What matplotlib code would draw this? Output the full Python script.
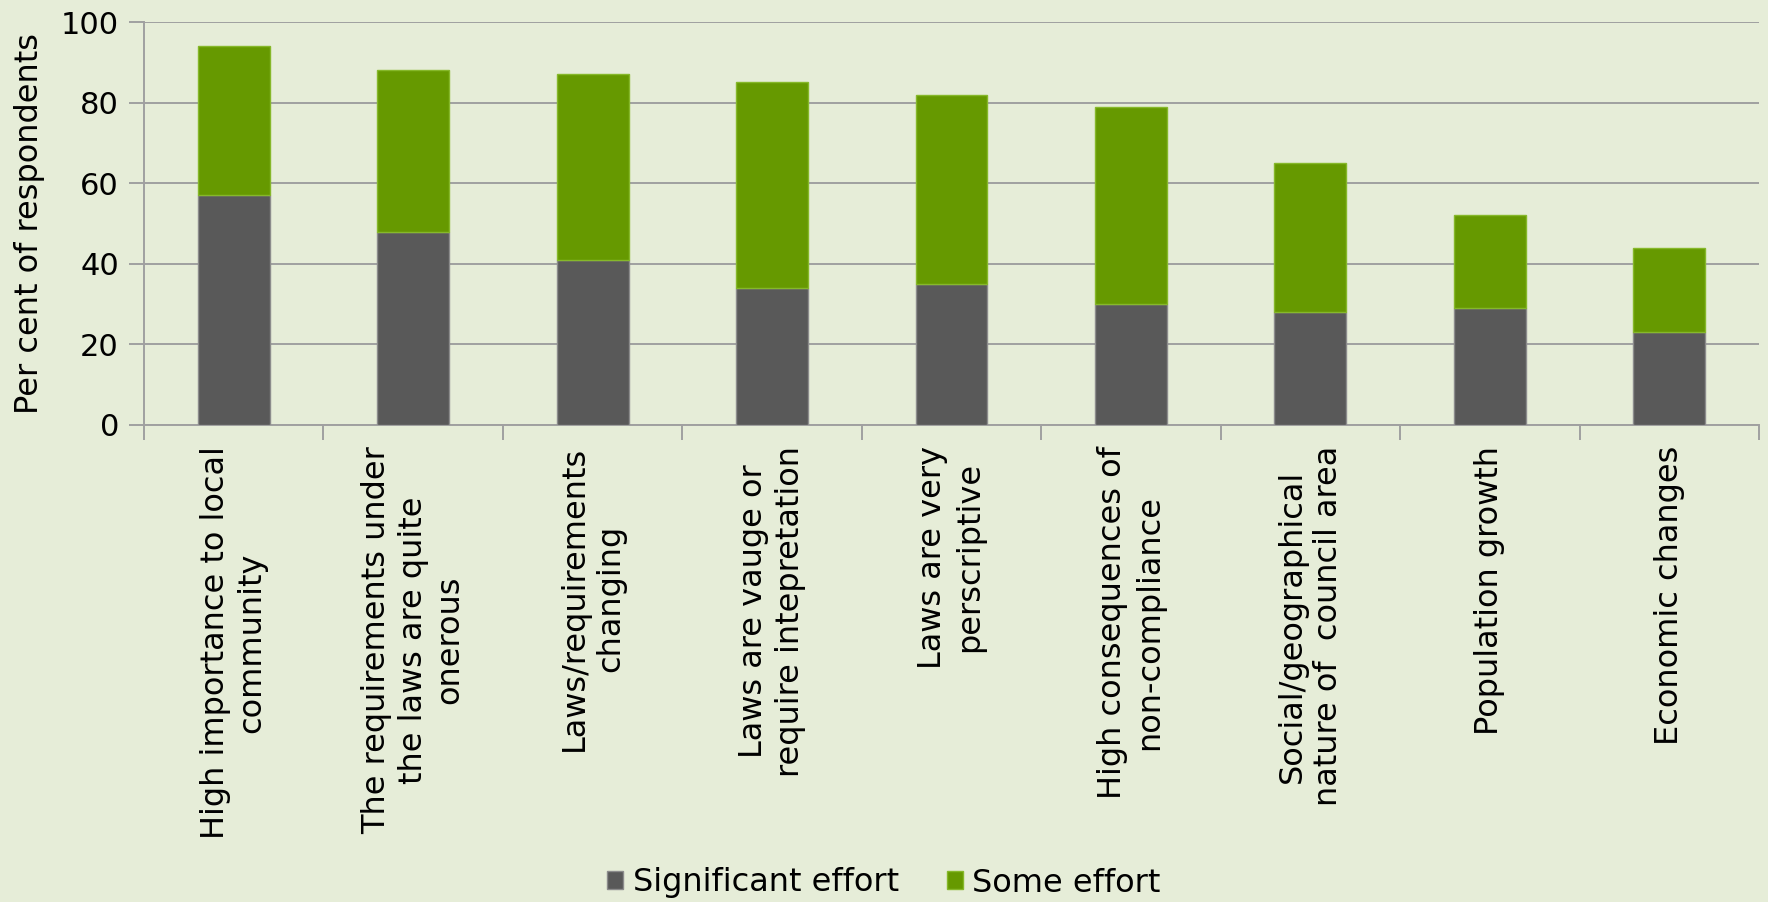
import numpy as np
import matplotlib
matplotlib.use('Agg')
import matplotlib.pyplot as plt

# survey: effort needed to comply with laws, by reason
categories = [
    'High importance to local\ncommunity',
    'The requirements under\nthe laws are quite\nonerous',
    'Laws/requirements\nchanging',
    'Laws are vauge or\nrequire intepretation',
    'Laws are very\nperscriptive',
    'High consequences of\nnon-compliance',
    'Social/geographical\nnature of  council area',
    'Population growth',
    'Economic changes',
]
significant = [57, 48, 41, 34, 35, 30, 28, 29, 23]
some = [37, 40, 46, 51, 47, 49, 37, 23, 21]
series_names = ['Significant effort', 'Some effort']

BG = '#E6EDD8'
DARK = '#595959'
GREEN = '#669900'
GRID = '#A0A0A0'
FS = 23

plt.rcParams['font.family'] = ['DejaVu Sans']

fig = plt.figure(figsize=(17.68, 9.02), dpi=100, facecolor=BG)
ax = fig.add_axes([144/1768, 1 - 425/902, (1759 - 144)/1768, (425 - 22)/902])
ax.set_facecolor(BG)

x = np.arange(len(categories))
ax.bar(x, significant, width=0.4, color=DARK, edgecolor='#8C8C8C', linewidth=1.0,
       label=series_names[0], zorder=3)
ax.bar(x, some, width=0.4, bottom=significant, color=GREEN, edgecolor='#86B82A',
       linewidth=1.0, label=series_names[1], zorder=3)

ax.set_xlim(-0.5, len(categories) - 0.5)
ax.set_ylim(0, 100)
ax.set_yticks(range(0, 101, 20))
ax.yaxis.grid(True, color=GRID, linewidth=1.4, zorder=0)
ax.set_axisbelow(True)

ax.set_xticks(x)
ax.set_xticklabels(categories, rotation=90, ha='center', va='top',
                   multialignment='center', fontsize=FS, linespacing=1.25)
ax.tick_params(axis='x', which='major', length=0, pad=15)
ax.set_xticks(np.arange(-0.5, len(categories)), minor=True)
ax.tick_params(axis='x', which='minor', length=11, width=1.4, color=GRID, direction='out')
ax.tick_params(axis='y', length=11, width=1.4, color=GRID, labelsize=22, pad=7)

for s in ['top', 'right']:
    ax.spines[s].set_visible(False)
for s in ['left', 'bottom']:
    ax.spines[s].set_color(GRID)
    ax.spines[s].set_linewidth(1.4)

fig.text(30/1768, 1 - 224/902, 'Per cent of respondents', rotation=90,
         ha='center', va='center', fontsize=FS)

fig.legend(loc='center', bbox_to_anchor=(0.5, 1 - 883/902), ncol=2, frameon=False,
           fontsize=FS, handlelength=0.5, handleheight=0.5, handletextpad=0.3,
           columnspacing=1.5)

fig.savefig('out.png', dpi=100, facecolor=BG)
